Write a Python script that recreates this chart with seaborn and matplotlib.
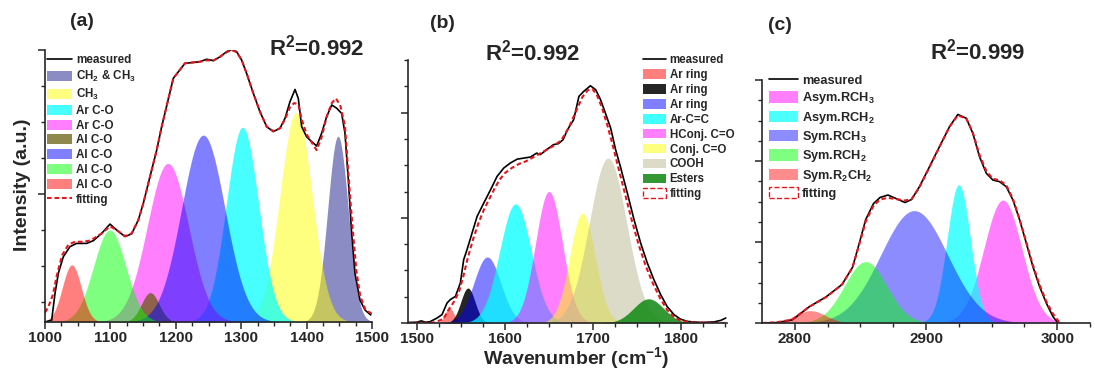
import numpy as np
import matplotlib
matplotlib.use("Agg")
import matplotlib.pyplot as plt
import seaborn as sns
from matplotlib.lines import Line2D
from matplotlib.patches import Patch

# ---------------- data ----------------
# Panel (a)
a_meas_x = [1000, 1010.2, 1015.3, 1020.4, 1028, 1038.2, 1048.4, 1063.7, 1073.9, 1086.7, 1099.4, 1109.6,
            1122.3, 1132.5, 1142.7, 1150.3, 1160.5, 1170.8, 1178.4, 1196.2, 1214, 1237, 1247.2, 1257.3,
            1267.6, 1277.8, 1285.4, 1293, 1300.7, 1308.3, 1318.5, 1328.7, 1339, 1349, 1359.3, 1367,
            1374.6, 1382.3, 1387.3, 1392.5, 1400, 1407.8, 1415.4, 1423, 1430.7, 1438.4, 1446, 1453.6,
            1458.7, 1463.8, 1468.9, 1474, 1481.6, 1489.3, 1498]
a_meas_y = [0.0, 0.007, 0.105, 0.179, 0.240, 0.277, 0.289, 0.289, 0.299, 0.326, 0.360, 0.338,
            0.314, 0.324, 0.375, 0.436, 0.534, 0.632, 0.718, 0.896, 0.951, 0.957, 0.966, 0.961,
            0.975, 0.994, 1.002, 0.994, 0.963, 0.914, 0.841, 0.773, 0.718, 0.700, 0.712, 0.749,
            0.810, 0.855, 0.822, 0.718, 0.681, 0.663, 0.647, 0.694, 0.755, 0.798, 0.786, 0.767,
            0.694, 0.522, 0.326, 0.179, 0.081, 0.044, 0.026]
a_fit_x = [1000, 1005, 1012, 1018, 1026, 1036, 1046, 1058, 1070, 1086.7, 1099.4, 1109.6,
           1122.3, 1132.5, 1142.7, 1150.3, 1160.5, 1170.8, 1178.4, 1196.2, 1214, 1237, 1247.2, 1257.3,
           1267.6, 1277.8, 1285.4, 1293, 1300.7, 1308.3, 1318.5, 1328.7, 1339, 1349, 1359.3, 1367,
           1374.6, 1381, 1387.3, 1392.5, 1400, 1407.8, 1415.4, 1423, 1430.7, 1438.4, 1445, 1452,
           1458.7, 1464, 1470, 1476, 1482, 1490, 1500]
a_fit_y = [0.035, 0.055, 0.10, 0.17, 0.245, 0.285, 0.295, 0.295, 0.300, 0.326, 0.352, 0.338,
           0.316, 0.326, 0.375, 0.436, 0.534, 0.632, 0.718, 0.896, 0.951, 0.957, 0.962, 0.961,
           0.975, 0.992, 1.0, 0.992, 0.963, 0.914, 0.841, 0.773, 0.718, 0.702, 0.712, 0.745,
           0.790, 0.805, 0.800, 0.745, 0.690, 0.660, 0.632, 0.680, 0.755, 0.805, 0.822, 0.792,
           0.720, 0.540, 0.355, 0.190, 0.095, 0.045, 0.030]
a_labels = ["CH$_2$ & CH$_3$", "CH$_3$", "Ar C-O", "Ar C-O", "Al C-O", "Al C-O", "Al C-O", "Al C-O"]
a_centers = [1448, 1384, 1302, 1188, 1161, 1242, 1099, 1041]
a_heights = [0.683, 0.770, 0.716, 0.583, 0.108, 0.687, 0.338, 0.210]
a_fwhm = [37, 58, 58, 74, 32, 78, 58, 34]
a_colors = ["#000080", "#ffff00", "#00ffff", "#ff00ff", "#5e5600", "#0000ff", "#00ff00", "#ff0000"]
a_alpha = [0.45, 0.5, 0.72, 0.5, 0.7, 0.5, 0.5, 0.5]

# Panel (b)
b_meas_x = [1490, 1500, 1505, 1510, 1515, 1523, 1528.6, 1534.3, 1538, 1543.8, 1549.4, 1553.2, 1557,
            1562.7, 1568.4, 1574, 1579.8, 1585.5, 1591, 1598.6, 1606, 1613.9, 1621.4, 1629, 1636,
            1640, 1647.4, 1655, 1660.6, 1666, 1671, 1678, 1684, 1689.5, 1697, 1703, 1708.5, 1714,
            1720, 1725.6, 1731, 1738.9, 1746.5, 1754, 1761.6, 1769, 1776.7, 1784, 1791.8, 1799,
            1807, 1822, 1837, 1845, 1850.6]
b_meas_y = [0.02, 0.03, 0.08, 0.03, 0.05, 0.19, 0.32, 0.76, 0.89, 1.01, 1.52, 2.41, 2.79,
            3.42, 4.05, 4.43, 4.81, 5.19, 5.57, 5.89, 6.08, 6.23, 6.27, 6.31, 6.46,
            6.40, 6.59, 6.78, 6.82, 6.97, 7.35, 7.73, 8.62, 8.81, 9.02, 8.87, 8.49, 7.98,
            7.41, 6.59, 5.95, 4.94, 3.93, 3.04, 2.28, 1.65, 1.08, 0.63, 0.32, 0.15,
            0.06, 0.02, 0.04, 0.10, 0.19]
b_fit_x = [1490, 1520, 1530, 1536, 1542, 1548, 1553, 1558, 1564, 1570, 1576, 1582, 1588, 1594, 1600,
           1608, 1616, 1624, 1632, 1640, 1648, 1656, 1664, 1672, 1680, 1688, 1694, 1699, 1704, 1710,
           1716, 1722, 1728, 1736, 1744, 1752, 1760, 1768, 1776, 1784, 1792, 1800, 1815, 1850]
b_fit_y = [0.0, 0.02, 0.15, 0.5, 0.8, 1.2, 1.8, 2.5, 3.2, 3.8, 4.3, 4.7, 5.1, 5.45, 5.7,
           5.9, 6.05, 6.15, 6.3, 6.45, 6.6, 6.75, 6.95, 7.4, 8.0, 8.6, 8.85, 8.9, 8.7, 8.2,
           7.55, 6.8, 6.0, 4.95, 3.9, 2.95, 2.15, 1.5, 0.95, 0.5, 0.22, 0.08, 0.02, 0.0]
b_labels = ["Ar ring", "Ar ring", "Ar ring", "Ar-C=C", "HConj. C=O", "Conj. C=O", "COOH", "Esters"]
b_centers = [1537, 1558, 1580, 1612, 1650, 1688, 1717, 1763]
b_heights = [0.57, 1.33, 2.51, 4.53, 5.0, 4.18, 6.27, 0.92]
b_fwhm = [12, 19, 36, 42, 36, 34, 50, 40]
b_colors = ["#ff0000", "#000000", "#0000ff", "#00ffff", "#ff00ff", "#ffff00", "#b8b890", "#168a16"]
b_alpha = [0.5, 0.85, 0.5, 0.75, 0.5, 0.5, 0.5, 0.88]

# Panel (c)
c_meas_x = [2775, 2786, 2798, 2811, 2824, 2836, 2844, 2849, 2854, 2860, 2865, 2871, 2877, 2884,
            2889, 2895, 2902.7, 2910.3, 2918, 2924.3, 2930.7, 2935.7, 2940.8, 2946, 2951, 2956.1,
            2961.2, 2966.3, 2971.4, 2976.5, 2981.5, 2986.6, 2991.8, 2996.8, 3000.6]
c_meas_y = [0.0, 0.02, 0.15, 0.8, 1.3, 1.9, 2.75, 3.9, 5.1, 5.9, 6.2, 6.32, 6.15, 5.95,
            6.1, 6.73, 7.72, 8.71, 9.70, 10.3, 10.11, 9.37, 8.21, 7.39, 7.06, 6.98,
            6.73, 6.07, 5.09, 3.93, 2.78, 1.79, 0.97, 0.31, 0.0]
c_fit_x = [2775, 2786, 2798, 2811, 2824, 2836, 2844, 2849, 2854, 2860, 2865, 2871, 2877, 2884,
           2889, 2895, 2902.7, 2910.3, 2918, 2924.3, 2930.7, 2935.7, 2940.8, 2946, 2951, 2956.1,
           2961.2, 2966.3, 2971.4, 2976.5, 2981.5, 2986.6, 2991.8, 2996.8, 3001.5]
c_fit_y = [0.0, 0.03, 0.17, 0.8, 1.28, 1.9, 2.75, 3.85, 5.0, 5.8, 6.1, 6.18, 6.12, 6.05,
           6.12, 6.7, 7.7, 8.7, 9.7, 10.25, 10.1, 9.4, 8.3, 7.5, 7.12, 7.05,
           6.8, 6.12, 5.12, 3.98, 2.85, 1.88, 1.05, 0.45, 0.05]
c_labels = ["Asym.RCH$_3$", "Asym.RCH$_2$", "Sym.RCH$_3$", "Sym.RCH$_2$", "Sym.R$_2$CH$_2$"]
c_centers = [2958.6, 2925, 2891, 2854, 2812]
c_heights = [6.07, 6.83, 5.55, 3.03, 0.61]
c_fwhm = [34, 21, 60, 38, 27]
c_colors = ["#ff00ff", "#00ffff", "#0000ff", "#00ff00", "#ff0000"]
c_alpha = [0.5, 0.7, 0.45, 0.5, 0.45]

r2_texts = ["R$^2$=0.992", "R$^2$=0.992", "R$^2$=0.999"]
panel_tags = ["(a)", "(b)", "(c)"]

# ---------------- styling ----------------
sns.set_theme(style="ticks")
plt.rcParams["font.family"] = ["Liberation Sans", "DejaVu Sans"]
plt.rcParams["font.weight"] = "bold"
plt.rcParams["mathtext.fontset"] = "custom"
plt.rcParams["mathtext.rm"] = "Liberation Sans:bold"
plt.rcParams["mathtext.bf"] = "Liberation Sans:bold"
plt.rcParams["mathtext.it"] = "Liberation Sans:bold"
plt.rcParams["mathtext.default"] = "bf"
plt.rcParams["axes.linewidth"] = 1.2

W, H = 1095, 376
fig = plt.figure(figsize=(W / 100, H / 100), dpi=100)


def px_axes(l, r, b, t):
    return fig.add_axes([l / W, 1 - b / H, (r - l) / W, (b - t) / H])


def gauss(x, c, h, w):
    return h * np.exp(-4 * np.log(2) * (x - c) ** 2 / w ** 2)


def draw_panel(ax, mx, my, fx, fy, labels, centers, heights, fwhm, colors, alphas, xlim, ylim):
    grid = np.linspace(xlim[0], xlim[1], 800)
    for lab, c, h, w, col, al in zip(labels, centers, heights, fwhm, colors, alphas):
        ax.fill_between(grid, 0, gauss(grid, c, h, w), color=col, alpha=al, linewidth=0)
    sns.lineplot(x=mx, y=my, ax=ax, color="black", linewidth=1.2, sort=False, estimator=None)
    sns.lineplot(x=fx, y=fy, ax=ax, color="#e8141c", linewidth=1.5, sort=False, estimator=None,
                 linestyle=(0, (2.2, 1.4)))
    ax.set_xlim(*xlim)
    ax.set_ylim(*ylim)
    sns.despine(ax=ax)
    ax.tick_params(axis="both", which="major", direction="out", length=5, width=1.1,
                   labelsize=11, pad=1.5)
    ax.tick_params(axis="both", which="minor", direction="out", length=3, width=1.0)
    ax.set_yticklabels([])
    ax.set_xlabel("")
    ax.set_ylabel("")
    for lbl in ax.get_xticklabels():
        lbl.set_fontweight("bold")


def make_legend(ax, labels, colors, alphas, fit_box, fontsize, anchor, spacing, hl, hh):
    handles = [Line2D([], [], color="black", linewidth=1.2)]
    for col, al in zip(colors, alphas):
        handles.append(Patch(facecolor=col, alpha=al, edgecolor="none"))
    if fit_box:
        handles.append(Patch(facecolor="white", edgecolor="#e8141c", linestyle="--", linewidth=1.0))
    else:
        handles.append(Line2D([], [], color="#e8141c", linewidth=1.5, linestyle=(0, (2.2, 1.4))))
    leg = ax.legend(handles, ["measured"] + labels + ["fitting"], loc="upper left",
                    bbox_to_anchor=anchor, frameon=False, fontsize=fontsize,
                    labelspacing=spacing, handlelength=hl, handleheight=hh,
                    handletextpad=0.3, borderpad=0.0, borderaxespad=0.0)
    for t in leg.get_texts():
        t.set_fontweight("bold")
    return leg


# ---------------- panel (a) ----------------
axa = px_axes(45, 372, 322, 50)
draw_panel(axa, a_meas_x, a_meas_y, a_fit_x, a_fit_y, a_labels, a_centers, a_heights, a_fwhm,
           a_colors, a_alpha, (1000, 1500), (0, 1.0))
axa.set_xticks(np.arange(1000, 1501, 100))
axa.set_xticks(np.arange(1000, 1501, 25), minor=True)
step = 36 / 272
axa.set_yticks([1.0, 1.0 - 4 * step])
axa.set_yticks([1.0 - k * step for k in range(8)], minor=True)
axa.set_yticklabels([])
make_legend(axa, a_labels, a_colors, a_alpha, False, 8.4, (0.005, 0.985), 0.24, 2.2, 0.95)

# ---------------- panel (b) ----------------
axb = px_axes(408, 727, 323, 60)
draw_panel(axb, b_meas_x, b_meas_y, b_fit_x, b_fit_y, b_labels, b_centers, b_heights, b_fwhm,
           b_colors, b_alpha, (1490, 1852), (0, 10))
axb.set_xticks([1500, 1600, 1700, 1800])
axb.set_xticks(np.arange(1500, 1851, 25), minor=True)
axb.set_yticks([0, 4, 8])
axb.set_yticks(np.arange(0, 10.01, 1), minor=True)
axb.set_yticklabels([])
make_legend(axb, b_labels, b_colors, b_alpha, True, 8.3, (0.737, 1.022), 0.25, 2.0, 0.9)

# ---------------- panel (c) ----------------
axc = px_axes(762, 1090, 323, 80)
draw_panel(axc, c_meas_x, c_meas_y, c_fit_x, c_fit_y, c_labels, c_centers, c_heights, c_fwhm,
           c_colors, c_alpha, (2775, 3025), (0, 12))
axc.set_xticks([2800, 2900, 3000])
axc.set_xticks(np.arange(2800, 3026, 25), minor=True)
axc.set_yticks([0, 4, 8, 12])
axc.set_yticks(np.arange(0, 12.01, 1), minor=True)
axc.set_yticklabels([])
make_legend(axc, c_labels, c_colors, c_alpha, True, 9.2, (0.02, 1.025), 0.26, 2.3, 1.0)

# ---------------- texts ----------------
tag_pos = [(82, 22), (442, 23), (780, 25)]
r2_pos = [(317, 48), (533, 53), (978, 52)]
for (tx, ty), tag in zip(tag_pos, panel_tags):
    fig.text(tx / W, 1 - ty / H, tag, fontsize=14, fontweight="bold", ha="center", va="center")
for (tx, ty), r2 in zip(r2_pos, r2_texts):
    fig.text(tx / W, 1 - ty / H, r2, fontsize=16, fontweight="bold", ha="center", va="center")
fig.text(23 / W, 1 - 185 / H, "Intensity (a.u.)", fontsize=14, fontweight="bold",
         ha="center", va="center", rotation=90)
fig.text(576 / W, 1 - 358 / H, "Wavenumber (cm$^{-1}$)", fontsize=14, fontweight="bold",
         ha="center", va="center")

fig.savefig("out.png", dpi=100)
